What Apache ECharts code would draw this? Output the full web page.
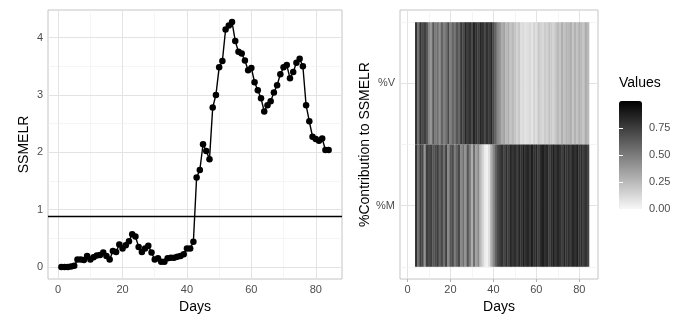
<!DOCTYPE html>
<html>
<head>
<meta charset="utf-8">
<script src="https://cdn.jsdelivr.net/npm/echarts@6.0.0/dist/echarts.min.js"></script>
<style>
  html, body { margin: 0; padding: 0; background: #fff; }
  #chart { width: 688px; height: 326px; }
</style>
</head>
<body>
<div id="chart"></div>
<script>
// SSMELR per day (left panel)
var ssmelr = [
  0.00, 0.00, 0.00, 0.01, 0.02, 0.13, 0.13, 0.12, 0.19, 0.13,
  0.17, 0.20, 0.21, 0.25, 0.19, 0.13, 0.28, 0.26, 0.39, 0.32,
  0.38, 0.45, 0.57, 0.53, 0.35, 0.26, 0.32, 0.37, 0.25, 0.13,
  0.15, 0.09, 0.09, 0.15, 0.16, 0.16, 0.18, 0.19, 0.22, 0.32,
  0.32, 0.44, 1.56, 1.69, 2.14, 2.02, 1.88, 2.78, 3.00, 3.48,
  3.59, 4.14, 4.21, 4.27, 3.94, 3.75, 3.72, 3.60, 3.43, 3.47,
  3.22, 3.08, 2.94, 2.71, 2.82, 2.89, 3.04, 3.17, 3.36, 3.48,
  3.52, 3.29, 3.40, 3.56, 3.63, 3.50, 2.82, 2.54, 2.27, 2.23,
  2.20, 2.24, 2.04, 2.04
];
var threshold = 0.88;

// contribution rows (right panel), days 4..84
var heatFirstDay = 4;
var pctV = [
  0.80, 0.55, 0.80, 0.70, 0.75, 0.65, 0.45, 0.40, 0.65, 0.50,
  0.55, 0.42, 0.60, 0.48, 0.55, 0.70, 0.48, 0.60, 0.52, 0.65,
  0.58, 0.78, 0.70, 0.85, 0.75, 0.80, 0.70, 0.85, 0.80, 0.75,
  0.85, 0.80, 0.70, 0.80, 0.75, 0.85, 0.70, 0.60, 0.45, 0.40,
  0.30, 0.35, 0.25, 0.30, 0.20, 0.25, 0.20, 0.15, 0.20, 0.10,
  0.12, 0.08, 0.10, 0.12, 0.08, 0.15, 0.10, 0.20, 0.15, 0.12,
  0.18, 0.15, 0.22, 0.18, 0.15, 0.20, 0.25, 0.20, 0.30, 0.22,
  0.28, 0.25, 0.30, 0.20, 0.28, 0.22, 0.30, 0.25, 0.20, 0.30,
  0.25
];
var pctM = [
  0.80, 0.55, 0.75, 0.70, 0.40, 0.75, 0.70, 0.75, 0.65, 0.70,
  0.75, 0.60, 0.70, 0.55, 0.75, 0.45, 0.65, 0.70, 0.50, 0.60,
  0.70, 0.45, 0.55, 0.40, 0.65, 0.50, 0.30, 0.55, 0.35, 0.45,
  0.25, 0.15, 0.05, 0.02, 0.10, 0.30, 0.45, 0.60, 0.70, 0.75,
  0.80, 0.72, 0.82, 0.75, 0.85, 0.78, 0.82, 0.75, 0.85, 0.80,
  0.88, 0.80, 0.85, 0.78, 0.88, 0.80, 0.85, 0.75, 0.82, 0.88,
  0.80, 0.85, 0.75, 0.82, 0.88, 0.78, 0.85, 0.80, 0.75, 0.85,
  0.78, 0.82, 0.75, 0.85, 0.80, 0.88, 0.78, 0.82, 0.75, 0.80,
  0.72
];
var rowNames = ['%M', '%V'];   // row 1 = %M, row 2 = %V

var dayTicks = [0, 20, 40, 60, 80];
var dayMinor = [10, 30, 50, 70];
var ssmelrTicks = [0, 1, 2, 3, 4];
var ssmelrMinor = [0.5, 1.5, 2.5, 3.5];
var rowTicks = [1, 2];
var rowMinor = [0.5, 1.5, 2.5];
var legendTicks = [0, 0.25, 0.5, 0.75];

var FONT = 'Liberation Sans, Arial, sans-serif';

var lineData = ssmelr.map(function (v, i) { return [i + 1, v]; });
var heatData = [];
for (var i = 0; i < pctV.length; i++) {
  heatData.push([heatFirstDay + i, 2, pctV[i]]);
  heatData.push([heatFirstDay + i, 1, pctM[i]]);
}

function gridLines(axisKey, major, minor) {
  var out = [];
  minor.forEach(function (v) {
    var d = {}; d[axisKey] = v;
    d.lineStyle = { color: '#efefef', width: 0.6, type: 'solid' };
    out.push(d);
  });
  major.forEach(function (v) {
    var d = {}; d[axisKey] = v;
    d.lineStyle = { color: '#e3e3e3', width: 1, type: 'solid' };
    out.push(d);
  });
  return out;
}

function valueAxis(gridIndex, min, max, ticks, extra) {
  var ax = {
    type: 'value',
    gridIndex: gridIndex,
    min: min,
    max: max,
    axisLine: { show: false },
    splitLine: { show: false },
    axisTick: { show: true, customValues: ticks, length: 3, lineStyle: { color: '#b3b3b3' } },
    axisLabel: { customValues: ticks, color: '#4d4d4d', fontSize: 11, fontFamily: FONT, margin: 5 },
    nameTextStyle: { color: '#000', fontSize: 14, fontFamily: FONT }
  };
  for (var k in extra) ax[k] = extra[k];
  return ax;
}

var chart = echarts.init(document.getElementById('chart'), null, { renderer: 'canvas' });

var option = {
  backgroundColor: '#fff',
  animation: false,
  title: {
    text: 'Values',
    left: 619,
    top: 76,
    padding: 0,
    textStyle: { fontSize: 14, fontWeight: 'normal', color: '#000', fontFamily: FONT }
  },
  grid: [
    { left: 48, top: 10, width: 294, height: 269, show: true, borderColor: '#c4c4c4', borderWidth: 1, backgroundColor: '#fff' },
    { left: 400, top: 10, width: 198, height: 269, show: true, borderColor: '#c4c4c4', borderWidth: 1, backgroundColor: '#fff' },
    { left: 619, top: 101, width: 23, height: 108, show: false }
  ],
  xAxis: [
    valueAxis(0, -3.15, 88.15, dayTicks, { name: 'Days', nameLocation: 'middle', nameGap: 21 }),
    valueAxis(1, -3.5, 88.7, dayTicks, { name: 'Days', nameLocation: 'middle', nameGap: 21 }),
    { type: 'value', gridIndex: 2, show: false, min: 0, max: 1 }
  ],
  yAxis: [
    valueAxis(0, -0.21, 4.48, ssmelrTicks, { name: 'SSMELR', nameLocation: 'middle', nameGap: 17 }),
    valueAxis(1, 0.4, 2.6, rowTicks, {
      name: '%Contribution to SSMELR', nameLocation: 'middle', nameGap: 26,
      axisLabel: {
        customValues: rowTicks, color: '#4d4d4d', fontSize: 11, fontFamily: FONT, margin: 5,
        formatter: function (v) { return rowNames[Math.round(v) - 1]; }
      }
    }),
    {
      type: 'value', gridIndex: 2, position: 'right', min: 0, max: 1, z: 10,
      axisLine: { show: false }, splitLine: { show: false },
      axisTick: { show: true, inside: true, length: 4, customValues: legendTicks, lineStyle: { color: '#fff', width: 1 } },
      axisLabel: {
        customValues: legendTicks, color: '#4d4d4d', fontSize: 11, fontFamily: FONT, margin: 7,
        formatter: function (v) { return v.toFixed(2); }
      }
    },
    {
      type: 'value', gridIndex: 2, position: 'left', min: 0, max: 1, z: 10,
      axisLine: { show: false }, splitLine: { show: false }, axisLabel: { show: false },
      axisTick: { show: true, inside: true, length: 4, customValues: legendTicks, lineStyle: { color: '#fff', width: 1 } }
    }
  ],
  visualMap: {
    type: 'continuous',
    seriesIndex: 3,
    dimension: 2,
    min: 0,
    max: 1,
    calculable: false,
    hoverLink: false,
    left: 619,
    top: 101,
    padding: 0,
    itemWidth: 23,
    itemHeight: 108,
    inRange: { color: ['#f7f7f7', '#000000'] },
    textStyle: { color: 'transparent' }
  },
  series: [
    {
      // grid lines, left panel
      type: 'line', xAxisIndex: 0, yAxisIndex: 0, data: [], silent: true,
      markLine: {
        silent: true, z: 1, symbol: ['none', 'none'], label: { show: false },
        data: gridLines('xAxis', dayTicks, dayMinor).concat(gridLines('yAxis', ssmelrTicks, ssmelrMinor))
      }
    },
    {
      type: 'line', xAxisIndex: 0, yAxisIndex: 0, data: lineData, z: 3,
      symbol: 'circle', symbolSize: 6.5,
      itemStyle: { color: '#000' },
      lineStyle: { color: '#000', width: 1.4 },
      markLine: {
        silent: true, z: 2, symbol: ['none', 'none'], label: { show: false },
        lineStyle: { color: '#000', width: 1.3, type: 'solid' },
        data: [{ yAxis: threshold }]
      }
    },
    {
      // grid lines, right panel
      type: 'line', xAxisIndex: 1, yAxisIndex: 1, data: [], silent: true,
      markLine: {
        silent: true, z: 1, symbol: ['none', 'none'], label: { show: false },
        data: gridLines('xAxis', dayTicks, dayMinor).concat(gridLines('yAxis', rowTicks, rowMinor))
      }
    },
    {
      type: 'custom', xAxisIndex: 1, yAxisIndex: 1, z: 3, data: heatData,
      renderItem: function (params, api) {
        var x = api.value(0), y = api.value(1);
        var p0 = api.coord([x - 0.5, y + 0.5]);
        var p1 = api.coord([x + 0.5, y - 0.5]);
        return {
          type: 'rect',
          shape: { x: p0[0], y: p0[1], width: p1[0] - p0[0] + 0.3, height: p1[1] - p0[1] },
          style: { fill: api.visual('color') }
        };
      }
    }
  ]
};

chart.setOption(option);
</script>
</body>
</html>
